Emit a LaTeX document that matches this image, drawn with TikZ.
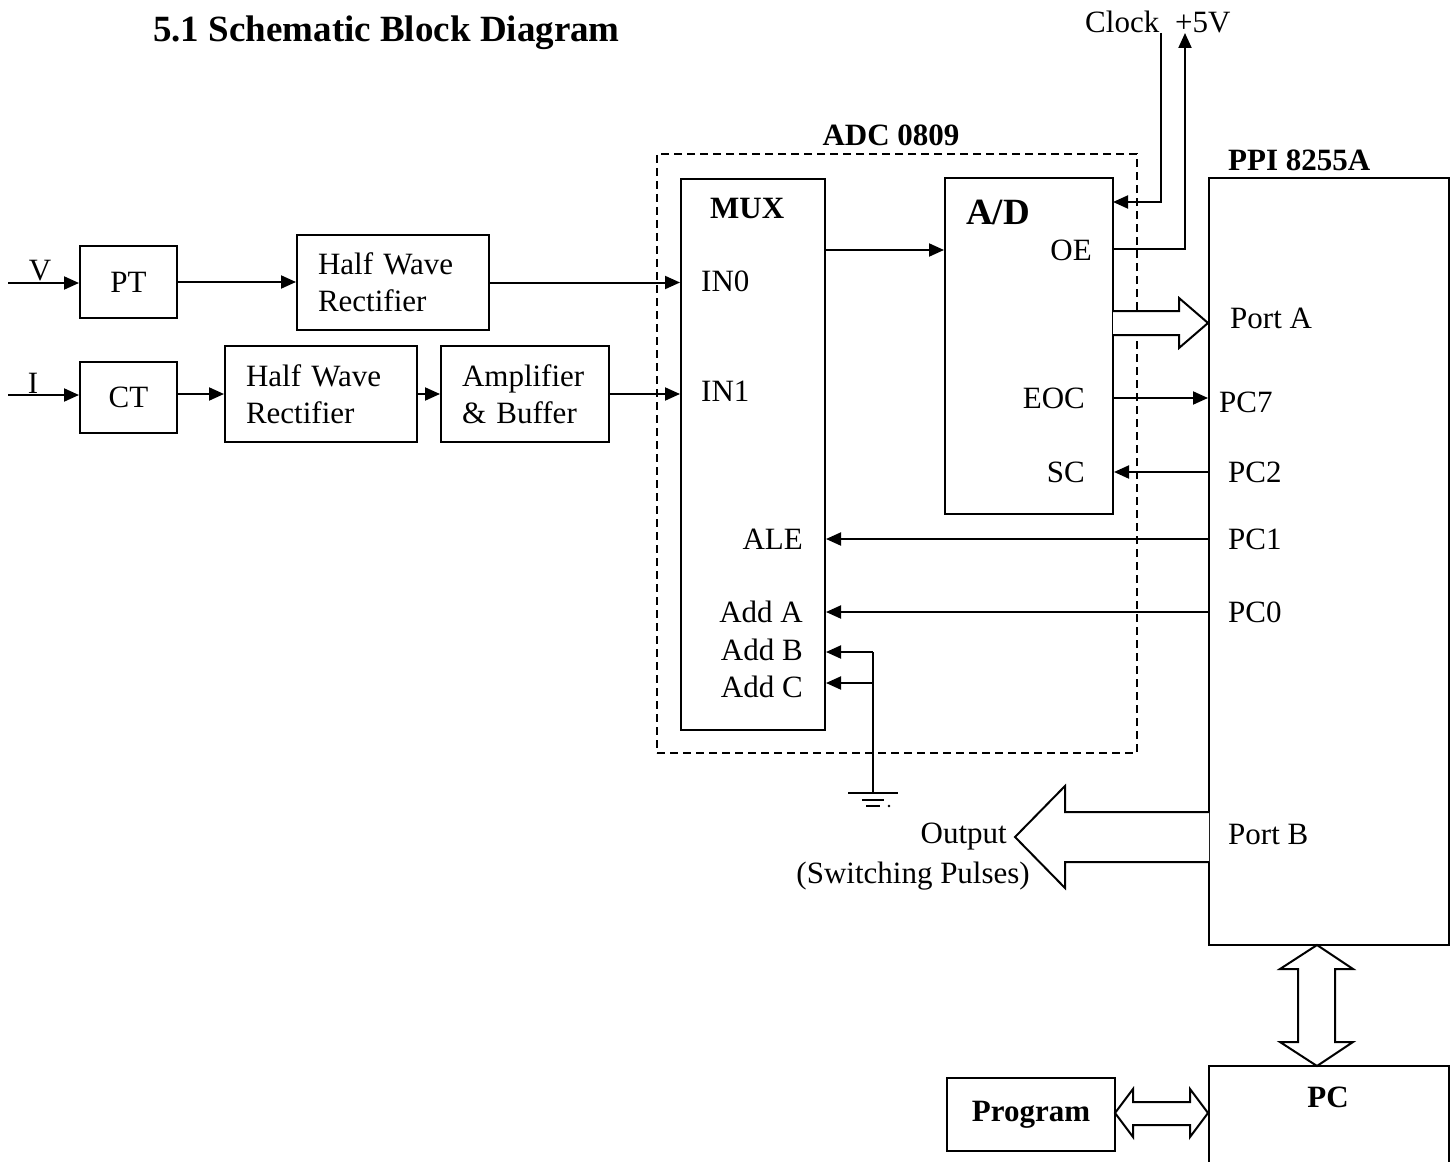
\documentclass[tikz,border=0pt]{standalone}
\usepackage{fontspec}
\setmainfont{Liberation Serif}
\usetikzlibrary{arrows.meta,calc}
\begin{document}
\begin{tikzpicture}[x=1pt,y=-1pt,
  every node/.style={font=\fontsize{31}{37}\selectfont, inner sep=0pt},
  blk/.style={draw, line width=2pt, inner sep=0pt, align=left},
  lblk/.style={draw, line width=2pt, inner ysep=0pt, inner xsep=21pt, align=left},
  emptybox/.style={draw, line width=2pt, inner sep=0pt},
  dashbox/.style={draw, line width=2pt, dash pattern=on 8pt off 5pt, inner sep=0pt},
  bl/.style={font=\fontsize{31}{37}\selectfont\bfseries},
  big/.style={font=\fontsize{37}{44}\selectfont\bfseries},
  ln/.style={line width=2pt},
  arr/.style={line width=2pt,-{Triangle[length=15pt,width=13pt]}},
  hollow/.style={line width=2pt, fill=white, line join=miter}]
\useasboundingbox (0,0) rectangle (1455,1161);
\clip (0,0) rectangle (1455,1161);

% title
\node[big, anchor=base west] (title) at (153,42) {5.1 Schematic Block Diagram};

% input chain
\node[blk, minimum width=97pt, minimum height=72pt] (pt) at (128.5,282) {PT};
\node[blk, minimum width=97pt, minimum height=71pt] (ct) at (128.5,397.5) {CT};
\node[lblk, text width=150pt, minimum height=95pt] (hw1) at (393,282.5) {Half Wave\\Rectifier};
\node[lblk, text width=150pt, minimum height=96pt] (hw2) at (321,394) {Half Wave\\Rectifier};
\node[lblk, text width=126pt, minimum height=96pt] (amp) at (525,394) {Amplifier\\\& Buffer};

% ADC
\node[dashbox, minimum width=480pt, minimum height=599pt] (adc) at (897,453.5) {};
\node[bl] (adclbl) at (891,135) {ADC 0809};
\node[emptybox, minimum width=144pt, minimum height=551pt] (mux) at (753,454.5) {};
\node[emptybox, minimum width=168pt, minimum height=336pt] (ad) at (1029,346) {};

\node[bl, anchor=west] (muxl) at (710,208) {MUX};
\node[anchor=west] (in0) at (701,281) {IN0};
\node[anchor=west] (in1) at (701,391) {IN1};
\node[anchor=east] (ale) at (803,539) {ALE};
\node[anchor=east] (adda) at (803,612) {Add A};
\node[anchor=east] (addb) at (803,650) {Add B};
\node[anchor=east] (addc) at (803,687) {Add C};

\node[big, anchor=west] (adl) at (966,212) {A/D};
\node[anchor=east] (oe) at (1092,250) {OE};
\node[anchor=east] (eoc) at (1085,398) {EOC};
\node[anchor=east] (sc) at (1085,472) {SC};

% PPI
\node[emptybox, minimum width=240pt, minimum height=767pt] (ppi) at (1329,561.5) {};
\node[bl, anchor=west] (ppilbl) at (1228,160) {PPI 8255A};
\node[anchor=west] (porta) at (1230,318) {Port A};
\node[anchor=west] (pc7) at (1219,402) {PC7};
\node[anchor=west] (pc2) at (1228,472) {PC2};
\node[anchor=west] (pc1) at (1228,539) {PC1};
\node[anchor=west] (pc0) at (1228,612) {PC0};
\node[anchor=west] (portb) at (1228,834) {Port B};

% PC and program
\node[emptybox, minimum width=240pt, minimum height=120pt] (pc) at (1329,1126) {};
\node[bl, anchor=base] (pclbl) at (1328,1107) {PC};
\node[blk, bl, minimum width=168pt, minimum height=73pt] (prog) at (1031,1114.5) {Program};

% clock and +5V
\node[anchor=base west] (clk) at (1085,33) {Clock};
\node[anchor=base west] (v5) at (1175,33) {+5V};

% input arrows
\coordinate (vin) at (8,283);
\coordinate (iin) at (8,395);
\node[anchor=base] (vlbl) at (40,280) {V};
\node[anchor=base] (ilbl) at (33,393) {I};
\draw[arr] (vin) -- (vin -| pt.west);
\draw[arr] (iin) -- (iin -| ct.west);
\draw[arr] (pt.east) -- (pt.east -| hw1.west);
\draw[arr] (hw1.east) -- (hw1.east -| mux.west);
\draw[arr] (ct.east |- hw2.west) -- (hw2.west);
\draw[arr] (hw2.east) -- (amp.west);
\draw[arr] (amp.east) -- (amp.east -| mux.west);

% mux to A/D
\coordinate (muxout) at (825,250);
\draw[arr] (muxout) -- (muxout -| ad.west);

% clock and OE
\coordinate (clkpin) at (1113,202);
\coordinate (oepin) at (1113,249);
\draw[arr] ([xshift=2pt]clk.base east) |- (clkpin);
\draw[arr] (oepin) -| ([xshift=10pt]v5.base west);

% Port A hollow arrow
\draw[hollow] (1113,311) -- (1179,311) -- (1179,298) -- (1208,323) -- (1179,348) -- (1179,335) -- (1113,335);

% control lines
\draw[arr] (eoc.east -| ad.east) -- (eoc.east -| ppi.west);
\draw[arr] (pc2.west -| ppi.west) -- (pc2.west -| ad.east);
\draw[arr] (pc1.west -| ppi.west) -- (pc1.west -| mux.east);
\draw[arr] (pc0.west -| ppi.west) -- (pc0.west -| mux.east);

% ground
\coordinate (gb) at (873,652);
\coordinate (gc) at (873,683);
\coordinate (gnd) at (873,793);
\draw[arr] (gb) -- (gb -| mux.east);
\draw[arr] (gc) -- (gc -| mux.east);
\draw[ln] (gb) -- (gnd);
\draw[ln] (848,793) -- (898,793);
\draw[ln] (862,800) -- (884,800);
\draw[ln] (866,806) -- (880,806);
\fill (889,806) circle (1.3);

% output hollow arrow
\draw[hollow] (1209,812) -- (1065,812) -- (1065,786) -- (1015,837) -- (1065,888) -- (1065,862) -- (1209,862);
\node[anchor=east] (outl) at (1007,837) {Output};
\node[anchor=base east] (swl) at (1030,883) {(Switching Pulses)};

% PPI <-> PC
\draw[hollow] (1317,945) -- (1353,969) -- (1335,969) -- (1335,1042) -- (1353,1042) -- (1317,1066) -- (1280,1042) -- (1298,1042) -- (1298,969) -- (1280,969) -- cycle;

% Program <-> PC
\draw[hollow] (1115,1113) -- (1133,1089) -- (1133,1102) -- (1190,1102) -- (1190,1089) -- (1208,1113) -- (1190,1137) -- (1190,1125) -- (1133,1125) -- (1133,1137) -- cycle;
\end{tikzpicture}
\end{document}
